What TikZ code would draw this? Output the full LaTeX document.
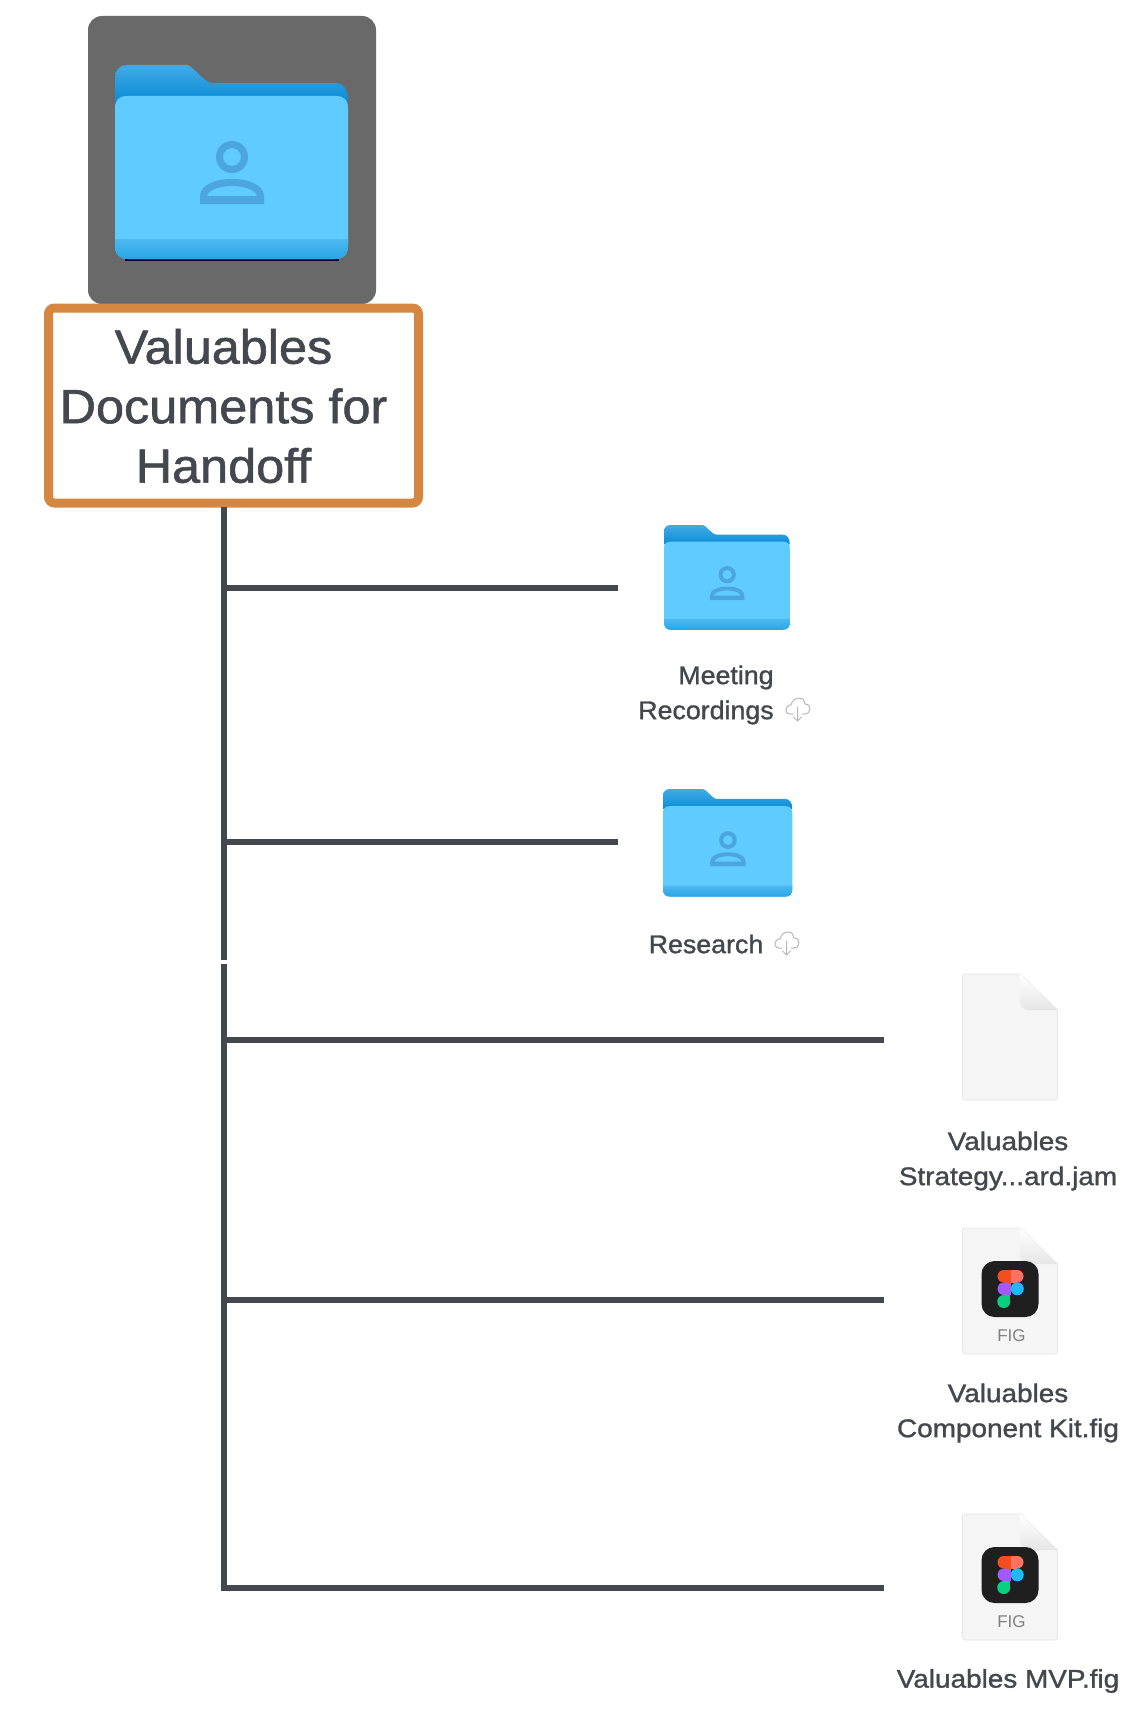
\documentclass[tikz,border=0pt]{standalone}
\usepackage{fontspec}
\setmainfont{Liberation Sans}
\newfontfamily\labelface[FakeStretch=1.095,FakeBold=1.2]{Liberation Sans}
\newfontfamily\folderface[FakeStretch=1.05,FakeBold=1.2]{Liberation Sans}
\newfontfamily\rootface[FakeStretch=1.05,FakeBold=1.2]{Liberation Sans}
\definecolor{ink}{HTML}{44484E}
\definecolor{boxorange}{HTML}{D58741}
\definecolor{tilegray}{HTML}{696969}
\definecolor{fronta}{HTML}{5FCBFF}
\definecolor{frontb}{HTML}{27A5E6}
\definecolor{bandtop}{HTML}{4DB9EF}
\definecolor{backa}{HTML}{42ABE6}
\definecolor{backb}{HTML}{0A8CD8}
\definecolor{personblue}{HTML}{4BA6DE}
\definecolor{pagegray}{HTML}{F5F5F5}
\definecolor{pageedge}{HTML}{E6E6E6}
\definecolor{figred}{HTML}{F24E1E}
\definecolor{figcoral}{HTML}{FF7262}
\definecolor{figpurple}{HTML}{A259FF}
\definecolor{figblue}{HTML}{1ABCFE}
\definecolor{figgreen}{HTML}{0ACF83}
\tikzset{
  x=1pt,y=-1pt,
  link/.style={draw=ink,line width=5.5pt,line join=miter,line cap=butt},
  lbl/.style={text=ink,font=\labelface\fontsize{25.5}{35}\selectfont,align=center,inner sep=0pt},
  flbl/.style={text=ink,font=\folderface\fontsize{25.5}{35}\selectfont,align=center,inner sep=0pt},
  cloudline/.style={draw=black!28,line width=1pt,line join=round,line cap=round},
  folder/.pic={
    \shade[top color=backa,bottom color=backb]
      (0,36) -- (0,12) .. controls (0,5) and (5,0) .. (12,0) -- (72,0)
      .. controls (78,0) and (88,18) .. (98,18) -- (220,18)
      .. controls (228,18) and (233,24) .. (233,36) -- cycle;
    \fill[fronta] (0,43) .. controls (0,35) and (4,31) .. (12,31) -- (221,31)
      .. controls (229,31) and (233,35) .. (233,43) -- (233,180)
      .. controls (233,189) and (229,194) .. (220,194) -- (13,194)
      .. controls (4,194) and (0,189) .. (0,180) -- cycle;
    \shade[top color=bandtop,bottom color=frontb] (0,174) -- (233,174) -- (233,180)
      .. controls (233,189) and (229,194) .. (220,194) -- (13,194)
      .. controls (4,194) and (0,189) .. (0,180) -- cycle;
    \fill[personblue,even odd rule]
      (117,92) circle[radius=16] (117,92) circle[radius=9];
    \fill[personblue,even odd rule]
      (85,139) -- (85,131) .. controls (85,120) and (100,114) .. (117,114)
      .. controls (134,114) and (149,120) .. (149,131) -- (149,139) -- cycle
      (92,131) .. controls (93,125) and (105,121) .. (117,121)
      .. controls (129,121) and (141,125) .. (142,131) -- cycle;
  },
  docpage/.pic={
    \fill[pagegray,draw=pageedge,line width=.8pt]
      (2,0) -- (58,0) -- (95,36) -- (95,123) .. controls (95,125) and (94,126) .. (92,126)
      -- (3,126) .. controls (1,126) and (0,125) .. (0,123) -- (0,2) .. controls (0,1) and (1,0) .. (2,0) -- cycle;
    \shade[top color=white,bottom color=black!10]
      (58,0) -- (95,36) -- (66,36) .. controls (61,36) and (58,33) .. (58,28) -- cycle;
  },
  figmadoc/.pic={
    \pic {docpage};
    \fill[black!88,rounded corners=13pt] (19,33) rectangle (76,89);
    \fill[figred] (41.25,48.25) circle[radius=6.25];
    \fill[figred] (41.25,42) rectangle (48,54.5);
    \fill[figcoral] (54.75,48.25) circle[radius=6.25];
    \fill[figcoral] (48,42) rectangle (54.75,54.5);
    \fill[figpurple] (41.25,60.75) circle[radius=6.25];
    \fill[figpurple] (41.25,54.5) rectangle (48,67);
    \fill[figblue] (54.75,60.75) circle[radius=6.5];
    \fill[figgreen] (41.25,73.5) circle[radius=6.5];
    \fill[figgreen] (41.25,67) rectangle (47.75,73.5);
    \node[text=black!50,font=\fontsize{17}{18}\selectfont,inner sep=0pt] (figlabel) at (49,108) {FIG};
  },
  cloudicon/.pic={
    \draw[cloudline]
      (8,16) -- (5,16) .. controls (1,16) and (0,12) .. (2,9)
      .. controls (3,7) and (5,7) .. (6,7) .. controls (7,2) and (11,0) .. (14,0)
      .. controls (18,0) and (20,3) .. (20,6) .. controls (24,6) and (25,9) .. (25,11)
      .. controls (25,14) and (23,16) .. (19,16) -- (17,16);
    \draw[cloudline] (12.5,9) -- (12.5,23) (8.5,19) -- (12.5,23) -- (16.5,19);
  }
}
\begin{document}
\begin{tikzpicture}
\useasboundingbox (0,0) rectangle (1136,1718);
\fill[white] (0,0) rectangle (1136,1718);
% root tile and folder
\fill[tilegray,rounded corners=14pt] (88,16) rectangle (376,304);
\fill[black!75!blue] (125,252) rectangle (339,260.5);
\pic at (115,65) {folder};
\node[draw=boxorange,line width=9pt,fill=white,rounded corners=6pt,
      minimum width=370pt,minimum height=195pt,inner sep=0pt] (root) at (233.5,405.5) {};
\node[text=ink,font=\rootface\fontsize{48}{59.5}\selectfont,align=center,inner sep=0pt] (roottext) at (223.5,406)
  {Valuables\\Documents for\\Handoff};
% connector anchors
\coordinate (t0) at (224,507);
\coordinate (t1) at (224,960);
\coordinate (t2) at (224,964);
\coordinate (j1) at (224,588);
\coordinate (j2) at (224,842);
\coordinate (j3) at (224,1040);
\coordinate (j4) at (224,1300);
\coordinate (j5) at (224,1588);
\coordinate (e1) at (618,588);
\coordinate (e2) at (618,842);
\coordinate (e3) at (884,1040);
\coordinate (e4) at (884,1300);
\coordinate (e5) at (884,1588);
\draw[link] (t0) -- (t1);
\draw[link] (t2) -- (j5) -- (e5);
\draw[link] (j1) -- (e1);
\draw[link] (j2) -- (e2);
\draw[link] (j3) -- (e3);
\draw[link] (j4) -- (e4);
% folders
\pic[scale=.54] at (664,525) {folder};
\pic[scale=.555] at (663,789) {folder};
\node[flbl] (meeting) at (726,695) {Meeting\\Recordings\hspace*{40pt}};
\pic at (785,698) {cloudicon};
\node[flbl] (research) at (706,944) {Research};
\pic at (774,932) {cloudicon};
% documents
\pic at (962.5,974) {docpage};
\node[lbl] (jam) at (1008,1161) {Valuables\\Strategy...ard.jam};
\pic at (962.5,1228) {figmadoc};
\node[lbl] (kit) at (1008,1413) {Valuables\\Component Kit.fig};
\pic at (962.5,1514) {figmadoc};
\node[lbl] (mvp) at (1008,1681) {Valuables MVP.fig};
\end{tikzpicture}
\end{document}
